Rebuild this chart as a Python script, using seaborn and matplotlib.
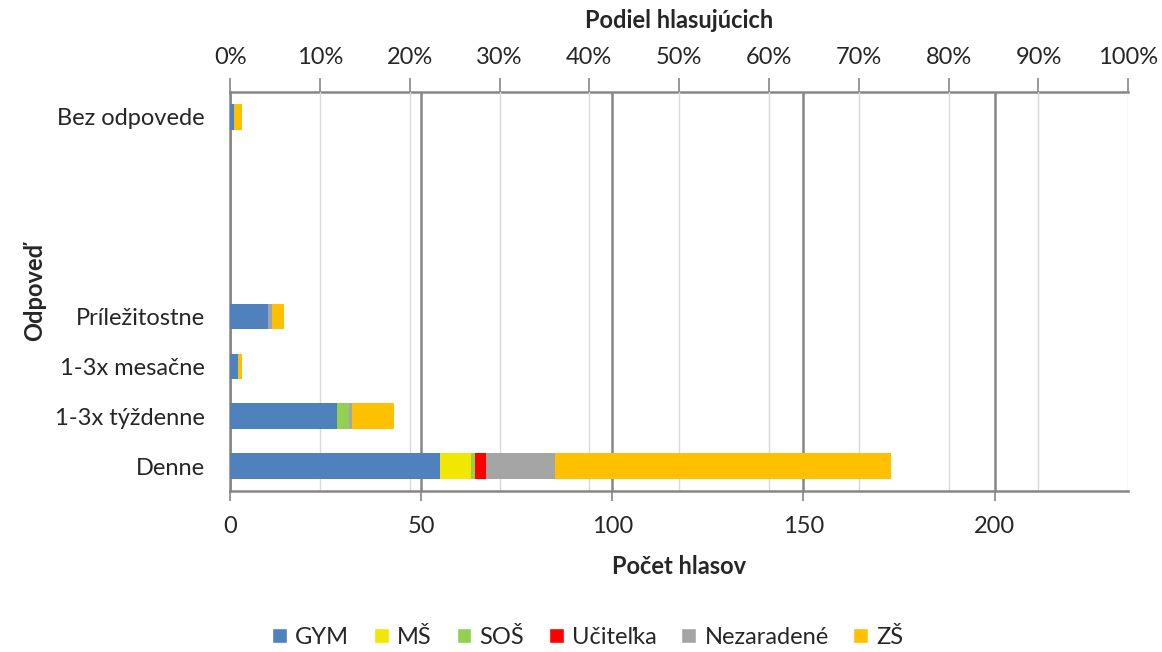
import matplotlib
matplotlib.use("Agg")
import numpy as np
import pandas as pd
import seaborn as sns
from matplotlib import pyplot as plt
from matplotlib.patches import Patch
from matplotlib.ticker import FuncFormatter

# odpovede zhora nadol (prazdne riadky su v grafe ako medzera)
answers = ["Bez odpovede", " ", "  ", "   ", "Príležitostne",
           "1-3x mesačne", "1-3x týždenne", "Denne"]
groups = ["GYM", "MŠ", "SOŠ", "Učiteľka", "Nezaradené", "ZŠ"]
colors = ["#4F81BD", "#F2E700", "#92D050", "#FF0000", "#A5A5A5", "#FFC000"]

gym = [1, 0, 0, 0, 10, 2, 28, 55]
ms = [0, 0, 0, 0, 0, 0, 0, 8]
sos = [0, 0, 0, 0, 0, 0, 3, 1]
ucitelka = [0, 0, 0, 0, 0, 0, 0, 3]
nezaradene = [0, 0, 0, 0, 1, 0, 1, 18]
zs = [2, 0, 0, 0, 3, 1, 11, 88]

total_votes = 235
pct_ticks = list(range(0, 101, 10))
count_ticks = [0, 50, 100, 150, 200]

sns.set_style("white")
plt.rcParams["font.family"] = ["Lato", "DejaVu Sans"]
plt.rcParams["font.size"] = 17

df = pd.DataFrame({"answer": answers, "GYM": gym, "MŠ": ms, "SOŠ": sos,
                   "Učiteľka": ucitelka, "Nezaradené": nezaradene, "ZŠ": zs})
cum = df[groups].cumsum(axis=1)

fig = plt.figure(figsize=(11.62, 6.52), dpi=100)
ax = fig.add_axes([0.198, 0.247, 0.773, 0.612])

# stacked bars: draw cumulative totals from the last group backwards
for g, c in reversed(list(zip(groups, colors))):
    sns.barplot(x=cum[g], y=df["answer"], order=answers, color=c,
                width=0.51, linewidth=0, saturation=1, ax=ax, zorder=3)

ax.set_xlim(0, total_votes)
ax.set_xticks(count_ticks)
ax.set_xticks([p * total_votes / 100 for p in pct_ticks], minor=True)
ax.grid(which="minor", axis="x", color="#D9D9D9", linewidth=1, zorder=0)
ax.grid(which="major", axis="x", color="#868686", linewidth=1.8, zorder=1)
ax.grid(axis="y", visible=False)
ax.tick_params(axis="x", which="major", length=7, width=1.2, color="#868686",
               pad=11, direction="out", bottom=True)
ax.tick_params(axis="x", which="minor", length=0)
ax.tick_params(axis="y", length=0, pad=18)
for side in ("left", "bottom"):
    ax.spines[side].set_color("#868686")
    ax.spines[side].set_linewidth(1.8)
ax.spines["right"].set_visible(False)
ax.spines["top"].set_visible(False)
ax.set_xlabel("Počet hlasov", fontweight="bold")
ax.xaxis.set_label_coords(0.5, -0.16)
ax.set_ylabel("Odpoveď", fontweight="bold")
ax.yaxis.set_label_coords(-0.205, 0.5)

top = ax.secondary_xaxis("top", functions=(lambda x: x / total_votes * 100,
                                           lambda p: p * total_votes / 100))
top.set_xticks(pct_ticks)
top.xaxis.set_major_formatter(FuncFormatter(lambda v, _: f"{v:.0f}%"))
top.tick_params(length=10, width=1.2, color="#868686", pad=7)
top.spines["top"].set_color("#868686")
top.spines["top"].set_linewidth(1.8)
top.set_xlabel("Podiel hlasujúcich", fontweight="bold", labelpad=14)

handles = [Patch(facecolor=c, label=g) for g, c in zip(groups, colors)]
fig.legend(handles=handles, loc="center", bbox_to_anchor=(0.506, 0.023),
           ncol=6, frameon=False, handlelength=0.62, handleheight=0.62,
           handletextpad=0.35, columnspacing=1.05, fontsize=17)

fig.savefig("out.png", dpi=100)
